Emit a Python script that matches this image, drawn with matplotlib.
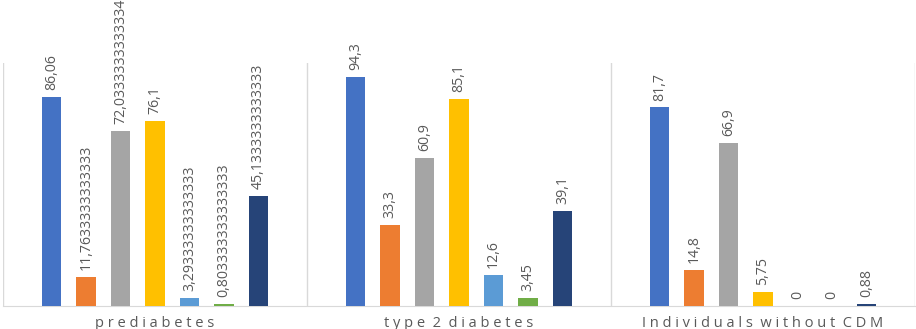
import matplotlib.pyplot as plt
import numpy as np

# categories and series (7 series per category)
categories = ["prediabetes", "type 2 diabetes", "Individuals without CDM"]
series_colors = ["#4472C4", "#ED7D31", "#A5A5A5", "#FFC000", "#5B9BD5", "#70AD47", "#264478"]

prediabetes = [86.06, 11.7633333333333, 72.0333333333334, 76.1, 3.29333333333333, 0.803333333333333, 45.1333333333333]
type2 = [94.3, 33.3, 60.9, 85.1, 12.6, 3.45, 39.1]
without_cdm = [81.7, 14.8, 66.9, 5.75, 0, 0, 0.88]

values = np.array([prediabetes, type2, without_cdm])

plt.rcParams['font.family'] = ['Open Sans', 'DejaVu Sans']

fig = plt.figure(figsize=(9.16, 3.29), dpi=100)
ax = fig.add_axes([3/916, 1 - 306/329, 912/916, 243/329])

n_series = values.shape[1]
step = 0.1136
width = 0.063
x = np.arange(len(categories))

for j in range(n_series):
    pos = x + (j - (n_series - 1) / 2) * step
    bars = ax.bar(pos, values[:, j], width=width, color=series_colors[j], zorder=3)
    for b, v in zip(bars, values[:, j]):
        lbl = ("%g" % v if v == int(v) else repr(float(v))).replace(".", ",")
        ax.annotate(lbl, (b.get_x() + b.get_width() / 2, b.get_height()),
                    xytext=(0, 5), textcoords="offset points",
                    rotation=90, ha="center", va="bottom",
                    fontsize=10.2, color="#595959", annotation_clip=False)

# category separators
for b in np.arange(-0.5, len(categories), 1.0):
    ax.axvline(b, ymin=0, ymax=1, color="#D9D9D9", lw=1, zorder=1)

ax.set_xlim(-0.5, len(categories) - 0.5)
ax.set_ylim(0, 100)
ax.set_yticks([])
ax.set_xticks(x)
spaced = ["  ".join(" ".join(w) for w in c.split(" ")) for c in categories]
ax.set_xticklabels(spaced, fontsize=10.5, color="#595959")
ax.tick_params(axis="x", length=0, pad=7)
for s in ["top", "left", "right"]:
    ax.spines[s].set_visible(False)
ax.spines["bottom"].set_color("#D9D9D9")

fig.savefig("out.png", dpi=100)
